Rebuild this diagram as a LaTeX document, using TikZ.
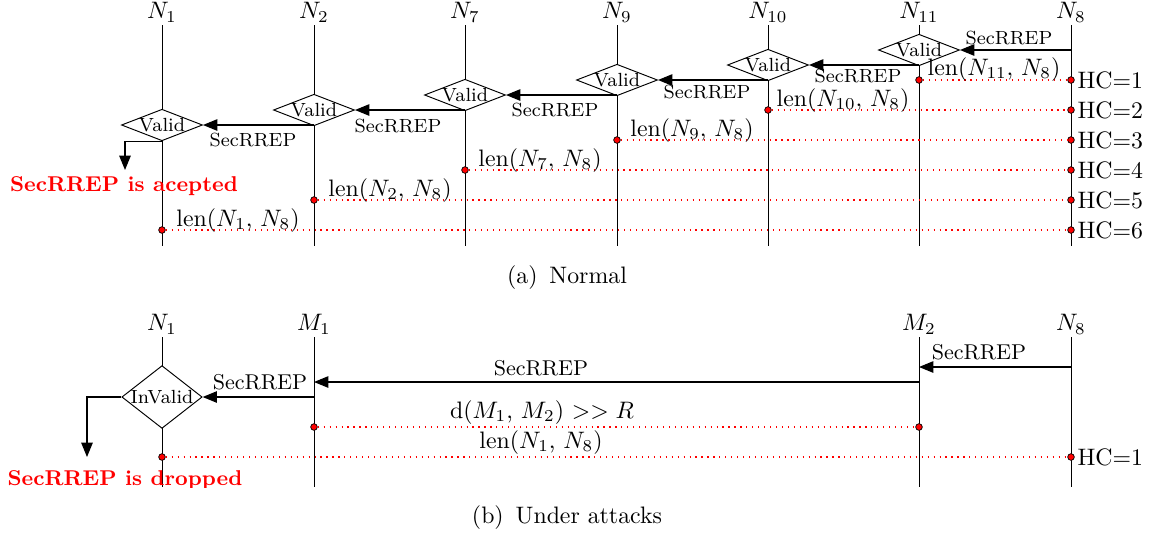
\documentclass[tikz,border=0pt]{standalone}
\usetikzlibrary{shapes.geometric,arrows.meta}
\begin{document}
\begin{tikzpicture}[x=0.42pt,y=-0.42pt,
  life/.style={draw=black, line width=0.4pt},
  msg/.style={draw=black, line width=0.5pt, -{Triangle[length=6pt,width=4.8pt]}},
  valid/.style={diamond, draw, fill=white, aspect=2.57, inner sep=0pt,
     minimum width=32.3pt, minimum height=12.6pt, font=\footnotesize},
  invalid/.style={diamond, draw, fill=white, aspect=1.28, inner sep=0pt,
     minimum width=32.3pt, minimum height=25.2pt, font=\footnotesize},
  hdot/.style={circle, draw=black, fill=red, inner sep=0pt, minimum size=2.8pt, line width=0.3pt},
  hcline/.style={red, dotted, line width=0.5pt},
  lbl/.style={anchor=south, inner sep=1pt},
  smlab/.style={font=\footnotesize},
  midlab/.style={font=\small},
  lenlab/.style={anchor=base},
  hclab/.style={anchor=west, inner sep=1pt},
  res/.style={text=red, font=\small\bfseries, anchor=base},
]
\useasboundingbox (0,0) rectangle (1154,536);

% ---------------- (a) Normal ----------------
\coordinate (t1) at (162,25);  \coordinate (b1) at (162,246);
\coordinate (t2) at (314,25);  \coordinate (b2) at (314,246);
\coordinate (t7) at (465,25);  \coordinate (b7) at (465,246);
\coordinate (t9) at (617,25);  \coordinate (b9) at (617,246);
\coordinate (t10) at (768,25); \coordinate (b10) at (768,246);
\coordinate (t11) at (919,25); \coordinate (b11) at (919,246);
\coordinate (t8) at (1071,25); \coordinate (b8) at (1071,246);

\node[lbl] (n1) at (t1) {$N_1$};
\node[lbl] (n2) at (t2) {$N_2$};
\node[lbl] (n7) at (t7) {$N_7$};
\node[lbl] (n9) at (t9) {$N_9$};
\node[lbl] (n10) at (t10) {$N_{10}$};
\node[lbl] (n11) at (t11) {$N_{11}$};
\node[lbl] (n8) at (t8) {$N_8$};

\draw[life] (t1) -- (b1);
\draw[life] (t2) -- (b2);
\draw[life] (t7) -- (b7);
\draw[life] (t9) -- (b9);
\draw[life] (t10) -- (b10);
\draw[life] (t11) -- (b11);
\draw[life] (t8) -- (b8);

\node[valid] (v1) at (162,125) {Valid};
\node[valid] (v2) at (314,110) {Valid};
\node[valid] (v7) at (465,95) {Valid};
\node[valid] (v9) at (617,80) {Valid};
\node[valid] (v10) at (768,65) {Valid};
\node[valid] (v11) at (919,50) {Valid};

\draw[msg] (v11.east -| t8) -- (v11.east);
\draw[msg] (v10.east -| v11) -- (v10.east);
\draw[msg] (v9.east -| v10) -- (v9.east);
\draw[msg] (v7.east -| v9) -- (v7.east);
\draw[msg] (v2.east -| v7) -- (v2.east);
\draw[msg] (v1.east -| v2) -- (v1.east);

\node[smlab] (s1) at (1009,38) {SecRREP};
\node[smlab] (s2) at (858,76) {SecRREP};
\node[smlab] (s3) at (707,92) {SecRREP};
\node[smlab] (s4) at (555,110) {SecRREP};
\node[smlab] (s5) at (398,126) {SecRREP};
\node[smlab] (s6) at (253,140) {SecRREP};

\coordinate (acc) at (125,170);
\draw[msg] (v1.south) -| (acc);
\node[res] (acct) at (124,191) {SecRREP is acepted};

% hop-count lines
\node[hdot] (p11) at (919,80) {};  \node[hdot] (q1) at (1071,80) {};
\node[hdot] (p10) at (768,110) {}; \node[hdot] (q2) at (1071,110) {};
\node[hdot] (p9) at (617,140) {};  \node[hdot] (q3) at (1071,140) {};
\node[hdot] (p7) at (465,170) {};  \node[hdot] (q4) at (1071,170) {};
\node[hdot] (p2) at (314,200) {};  \node[hdot] (q5) at (1071,200) {};
\node[hdot] (p1) at (162,230) {};  \node[hdot] (q6) at (1071,230) {};

\draw[hcline] (p11) -- (q1);
\draw[hcline] (p10) -- (q2);
\draw[hcline] (p9) -- (q3);
\draw[hcline] (p7) -- (q4);
\draw[hcline] (p2) -- (q5);
\draw[hcline] (p1) -- (q6);

\node[hclab] (hc1) at (q1.east) {HC=1};
\node[hclab] (hc2) at (q2.east) {HC=2};
\node[hclab] (hc3) at (q3.east) {HC=3};
\node[hclab] (hc4) at (q4.east) {HC=4};
\node[hclab] (hc5) at (q5.east) {HC=5};
\node[hclab] (hc6) at (q6.east) {HC=6};

\node[lenlab] (l11) at (994,75) {len($N_{11}$, $N_8$)};
\node[lenlab] (l10) at (843,106) {len($N_{10}$, $N_8$)};
\node[lenlab] (l9) at (692,136) {len($N_9$, $N_8$)};
\node[lenlab] (l7) at (540,166) {len($N_7$, $N_8$)};
\node[lenlab] (l2) at (390,196) {len($N_2$, $N_8$)};
\node[lenlab] (l1) at (238,226) {len($N_1$, $N_8$)};

\node[anchor=base] (capa) at (567,283) {(a)\enspace Normal};

% ---------------- (b) Under attacks ----------------
\coordinate (u1) at (162,337);  \coordinate (d1) at (162,487);
\coordinate (um1) at (314,337); \coordinate (dm1) at (314,487);
\coordinate (um2) at (919,337); \coordinate (dm2) at (919,487);
\coordinate (u8) at (1071,337); \coordinate (d8) at (1071,487);

\node[lbl] (bn1) at (u1) {$N_1$};
\node[lbl] (bm1) at (um1) {$M_1$};
\node[lbl] (bm2) at (um2) {$M_2$};
\node[lbl] (bn8) at (u8) {$N_8$};

\draw[life] (u1) -- (d1);
\draw[life] (um1) -- (dm1);
\draw[life] (um2) -- (dm2);
\draw[life] (u8) -- (d8);

\node[invalid] (iv) at (162,397) {InValid};

\coordinate (m8out) at (1071,367); \coordinate (m2in) at (919,367);
\coordinate (m2out) at (919,382);  \coordinate (m1in) at (314,382);
\coordinate (m1out) at (314,397);
\draw[msg] (m8out) -- (m2in);
\draw[msg] (m2out) -- (m1in);
\draw[msg] (m1out) -- (iv.east);

\node[midlab] (bs1) at (979,352) {SecRREP};
\node[midlab] (bs2) at (541,368) {SecRREP};
\node[midlab] (bs3) at (260,382) {SecRREP};

\coordinate (drp) at (87,457);
\draw[msg] (iv.west) -| (drp);
\begin{scope}
  \clip (0,300) rectangle (420,487);
  \node[res] (drpt) at (125,485) {SecRREP is dropped};
\end{scope}

\node[hdot] (r1) at (314,427) {}; \node[hdot] (r2) at (919,427) {};
\node[hdot] (r3) at (162,457) {}; \node[hdot] (r4) at (1071,457) {};
\draw[hcline] (r1) -- (r2);
\draw[hcline] (r3) -- (r4);
\node[lenlab] (dl) at (542,418) {d($M_1$, $M_2$) $>> R$};
\node[lenlab] (bl) at (541,448) {len($N_1$, $N_8$)};
\node[hclab] (bhc) at (r4.east) {HC=1};

\node[anchor=base] (capb) at (567,523) {(b)\enspace Under attacks};
\end{tikzpicture}
\end{document}
